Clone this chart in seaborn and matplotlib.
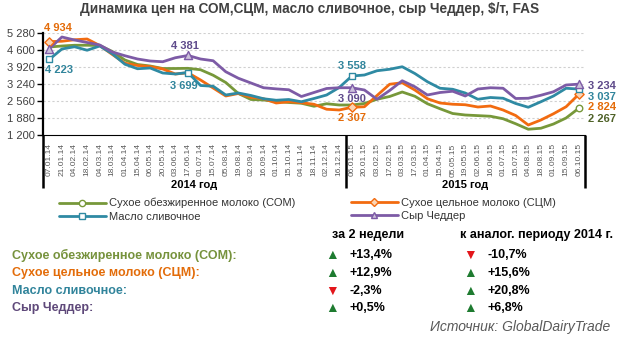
import numpy as np
import pandas as pd
import matplotlib
matplotlib.use("Agg")
import matplotlib.pyplot as plt
from matplotlib.lines import Line2D
from matplotlib.ticker import FixedLocator
import seaborn as sns

# ---------------- data ----------------
dates = ["07.01.14", "21.01.14", "04.02.14", "18.02.14", "04.03.14", "18.03.14",
         "01.04.14", "15.04.14", "06.05.14", "20.05.14", "03.06.14", "17.06.14",
         "01.07.14", "15.07.14", "05.08.14", "19.08.14", "02.09.14", "16.09.14",
         "01.10.14", "15.10.14", "04.11.14", "18.11.14", "02.12.14", "16.12.14",
         "06.01.15", "20.01.15", "03.02.15", "17.02.15", "03.03.15", "17.03.15",
         "01.04.15", "15.04.15", "05.05.15", "19.05.15", "02.06.15", "16.06.15",
         "01.07.15", "15.07.15", "04.08.15", "18.08.15", "01.09.15", "15.09.15",
         "06.10.15"]

som = [4720, 4760, 4790, 4790, 4780, 4540, 4200, 4020, 3960, 3860, 3860, 3867,
       3810, 3590, 3300, 2860, 2620, 2600, 2540, 2500, 2470, 2350, 2450, 2400,
       2400, 2460, 2630, 2740, 2920, 2750, 2450, 2250, 2060, 2000, 1975, 1950,
       1850, 1650, 1430, 1470, 1640, 1880, 2267]
scm = [4934, 4950, 5010, 5040, 4780, 4420, 4070, 3980, 3940, 3840, 3640, 3690,
       3400, 3080, 2760, 2860, 2710, 2650, 2480, 2530, 2490, 2430, 2230, 2200,
       2307, 2330, 2780, 3230, 3290, 3000, 2650, 2480, 2430, 2410, 2320, 2360,
       2200, 1980, 1600, 1800, 2050, 2330, 2824]
butter = [4223, 4640, 4730, 4590, 4760, 4450, 4030, 3850, 3880, 3680, 3640, 3699,
          3180, 3150, 2800, 2880, 2780, 2650, 2590, 2620, 2530, 2660, 2800, 3100,
          3558, 3600, 3770, 3830, 3930, 3660, 3330, 3070, 3030, 2880, 2630, 2700,
          2670, 2460, 2310, 2530, 2760, 3070, 3037]
cheddar = [4650, 5120, 5000, 4900, 4800, 4520, 4370, 4240, 4160, 4130, 4290, 4381,
           4240, 4170, 3730, 3470, 3280, 3090, 3045, 3010, 2740, 2900, 3060, 3090,
           3090, 3000, 2630, 2980, 3370, 3130, 2800, 2900, 2950, 2760, 3040, 3090,
           3070, 2660, 2670, 2790, 2930, 3200, 3234]

series_names = ["Сухое обезжиренное молоко (СОМ)", "Сухое цельное молоко (СЦМ)",
                "Масло сливочное", "Сыр Чеддер"]
yticks = [1200, 1880, 2560, 3240, 3920, 4600, 5280]
ytick_labels = ["1 200", "1 880", "2 560", "3 240", "3 920", "4 600", "5 280"]
year_labels = ["2014 год", "2015 год"]
title = "Динамика цен на СОМ,СЦМ, масло сливочное, сыр Чеддер, $/т, FAS"

table_labels = ["Сухое обезжиренное молоко (СОМ):", "Сухое цельное молоко (СЦМ):",
                "Масло сливочное:", "Сыр Чеддер:"]
change_2w = ["+13,4%", "+12,9%", "-2,3%", "+0,5%"]
change_yoy = ["-10,7%", "+15,6%", "+20,8%", "+6,8%"]
header_2w = "за 2 недели"
header_yoy = "к аналог. периоду 2014 г."
source = "Источник: GlobalDairyTrade"

# ---------------- style ----------------
sns.set_theme(style="white")
plt.rcParams["font.family"] = ["Liberation Sans", "DejaVu Sans"]

line_colors = ["#77983A", "#F26B10", "#2F8AA3", "#7D5BA6"]
label_colors = ["#76923C", "#E36C09", "#31849B", "#5F497A"]
ann_colors = ["#4F6228", "#E46C0A", "#31859C", "#5F4B8B"]
marker_style = [("o", "white"), ("D", "#FBD5B5"), ("s", "white"), ("^", "#CCC1DA")]

n = len(dates)
idx = np.arange(n)
wide = pd.DataFrame({"x": idx, series_names[0]: som, series_names[1]: scm,
                     series_names[2]: butter, series_names[3]: cheddar})
df = wide.melt(id_vars="x", var_name="series", value_name="price")

fig = plt.figure(figsize=(6.18, 3.41), dpi=100)
ax = fig.add_axes([43 / 618, 1 - 135 / 341, 542 / 618, 102 / 341])

sns.lineplot(data=df, x="x", y="price", hue="series", hue_order=series_names,
             palette=line_colors, linewidth=2.0, legend=False, ax=ax, sort=False)

# marked points
marked = {0: [42], 1: [0, 24, 42], 2: [0, 11, 24, 42], 3: [0, 11, 24, 42]}
values = [som, scm, butter, cheddar]
for s, pts in marked.items():
    m, fc = marker_style[s]
    sub = pd.DataFrame({"x": [idx[p] for p in pts], "y": [values[s][p] for p in pts]})
    sns.scatterplot(data=sub, x="x", y="y", marker=m, s=22 if m != "^" else 34,
                    facecolor=fc, edgecolor=line_colors[s], linewidth=1.0,
                    ax=ax, zorder=5, legend=False, clip_on=False)

# value annotations (index, series, text offset in points, ha)
ann = [
    (0, 1, (6.5, 10), "center"),
    (0, 2, (-3, -7.5), "left"),
    (11, 3, (-2, 7), "center"),
    (11, 2, (-3, -10), "center"),
    (24, 2, (0, 7.5), "center"),
    (24, 3, (0, -8), "center"),
    (24, 1, (0, -8), "center"),
    (42, 3, (7, -1.3), "left"),
    (42, 2, (7, -6), "left"),
    (42, 1, (7, -9), "left"),
    (42, 0, (7, -7.7), "left"),
]
for i, s, off, ha in ann:
    v = values[s][i]
    txt = f"{v:,}".replace(",", " ")
    ax.annotate(txt, (idx[i], v), xytext=off, textcoords="offset points",
                ha=ha, va="center", fontsize=8, fontweight="bold",
                color=ann_colors[s], annotation_clip=False)

ax.set_xlim(-0.5, n - 0.5)
ax.set_ylim(yticks[0], yticks[-1])
ax.set_yticks(yticks)
ax.set_yticklabels(ytick_labels, fontsize=8, color="#404040")
ax.set_xticks(idx)
ax.set_xticklabels(dates, rotation=90, fontsize=6, color="#595959")
ax.xaxis.set_minor_locator(FixedLocator(np.arange(-0.5, n, 1.0)))
ax.tick_params(axis="x", which="major", length=0, pad=6)
ax.tick_params(axis="x", which="minor", length=5, width=1, color="black", direction="out")
ax.tick_params(axis="y", which="major", length=4, width=1, color="black", pad=2, left=True)
ax.set_xlabel("")
ax.set_ylabel("")
for yv in yticks[1:]:
    ax.axhline(yv, color="#D0D0D0", lw=0.8, ls=(0, (2, 2)), zorder=0)

for sp in ["top", "right"]:
    ax.spines[sp].set_visible(False)
ax.spines["left"].set_color("black")
ax.spines["left"].set_linewidth(1.6)
ax.spines["bottom"].set_color("black")
ax.spines["bottom"].set_linewidth(0.8)

# year separators
trans = ax.get_xaxis_transform()
for xv in [-0.5, 23.5, n - 0.5]:
    ax.plot([xv, xv], [0, -0.52], transform=trans, color="black", lw=1.8,
            clip_on=False, solid_capstyle="butt")
ax.text(11.5, -0.49, year_labels[0], transform=trans, ha="center", va="center",
        fontsize=8, fontweight="bold", color="black")
ax.text(33, -0.49, year_labels[1], transform=trans, ha="center", va="center",
        fontsize=8, fontweight="bold", color="black")

fig.text(310 / 618, 1 - 9 / 341, title, ha="center", va="center", fontsize=9.8,
         fontweight="bold", color="#404040")

# legends
def handle(s):
    m, fc = marker_style[s]
    return Line2D([0], [0], color=line_colors[s], lw=2.0, marker=m, markersize=4.5,
                  markerfacecolor=fc, markeredgecolor=line_colors[s])

leg1 = fig.legend([handle(0), handle(2)], [series_names[0], series_names[2]],
                  loc="upper left", bbox_to_anchor=(59 / 618, 1 - 198 / 341),
                  frameon=False, fontsize=8, handlelength=4.2, handletextpad=0.3,
                  labelspacing=0.3, borderpad=0, borderaxespad=0)
for t in leg1.get_texts():
    t.set_color("#333333")
leg2 = fig.legend([handle(1), handle(3)], [series_names[1], series_names[3]],
                  loc="upper left", bbox_to_anchor=(351 / 618, 1 - 198 / 341),
                  frameon=False, fontsize=8, handlelength=4.2, handletextpad=0.3,
                  labelspacing=0.3, borderpad=0, borderaxespad=0)
for t in leg2.get_texts():
    t.set_color("#333333")

# table
fig.text(368 / 618, 1 - 235 / 341, header_2w, ha="center", va="center", fontsize=9,
         fontweight="bold", color="black")
fig.text(460 / 618, 1 - 235 / 341, header_yoy, ha="left", va="center", fontsize=9,
         fontweight="bold", color="black")
rows_y = [255, 273, 291, 308]
for k in range(4):
    yy = 1 - rows_y[k] / 341
    fig.text(12 / 618, yy, table_labels[k], ha="left", va="center", fontsize=9,
             fontweight="bold", color=label_colors[k])
    for val, xt, xv in [(change_2w[k], 332, 350), (change_yoy[k], 470, 488)]:
        up = not val.startswith("-")
        fig.text(xt / 618, yy, "▲" if up else "▼", ha="center", va="center",
                 fontsize=10, color="#1E7B30" if up else "#E3161B")
        fig.text(xv / 618, yy, val, ha="left", va="center", fontsize=9,
                 fontweight="bold", color="black")

fig.text(610 / 618, 1 - 327 / 341, source, ha="right", va="center", fontsize=10,
         style="italic", color="#595959")

fig.savefig("out.png", dpi=100)
